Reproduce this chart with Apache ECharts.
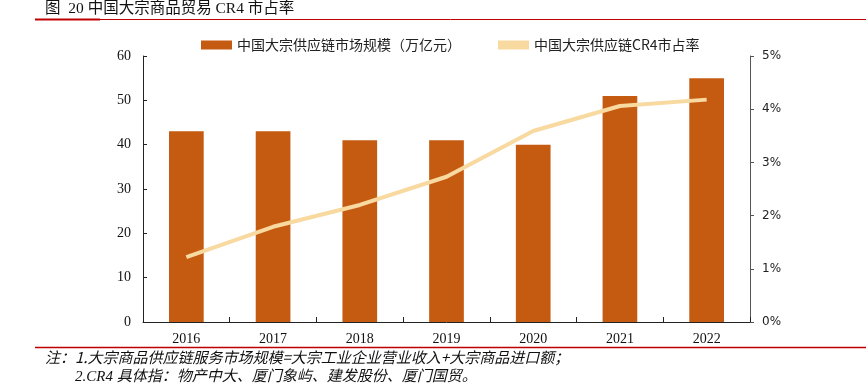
<!DOCTYPE html>
<html>
<head>
<meta charset="utf-8">
<script src="https://cdn.jsdelivr.net/npm/echarts@6/dist/echarts.min.js"></script>
<style>html,body{margin:0;padding:0;background:#fff;}#c{width:866px;height:391px;}</style>
</head>
<body>
<div id="c"></div>
<script>
const years = ['2016','2017','2018','2019','2020','2021','2022'];
const marketSize = [43, 43, 41, 41, 40, 51, 55];
const cr4Share = [1.22, 1.79, 2.20, 2.73, 3.59, 4.06, 4.18];
const leftTicks = [0, 60, 10];
const rightTicks = [0, 5, 1];
const titleText = '图  20 中国大宗商品贸易 CR4 市占率';
const barName = '中国大宗供应链市场规模（万亿元）';
const lineName = '中国大宗供应链CR4市占率';
const note1 = '注：1.大宗商品供应链服务市场规模=大宗工业企业营业收入+大宗商品进口额；';
const note2 = '2.CR4 具体指：物产中大、厦门象屿、建发股份、厦门国贸。';

const chart = echarts.init(document.getElementById('c'), null, {renderer: 'canvas'});
const serif = '"Liberation Serif", "Noto Sans CJK SC", serif';
const cjk = '"Noto Sans CJK SC", sans-serif';
chart.setOption({
  animation: false,
  backgroundColor: '#fff',
  graphic: [
    {type: 'text', left: 45, top: 1, style: {text: titleText, font: '15.5px "Liberation Serif", "Noto Sans CJK SC"', fill: '#111'}},
    {type: 'line', shape: {x1: 35, y1: 19.5, x2: 866, y2: 19.5}, style: {stroke: '#C00000', lineWidth: 1}},
    {type: 'line', shape: {x1: 35, y1: 19.5, x2: 100, y2: 19.5}, style: {stroke: '#C00000', lineWidth: 2}},
    {type: 'line', shape: {x1: 35, y1: 347.5, x2: 866, y2: 347.5}, style: {stroke: '#C00000', lineWidth: 1.5}},
    {type: 'text', left: 45, top: 350, style: {text: note1, font: 'italic 15px "Noto Sans CJK SC"', fill: '#111'}},
    {type: 'text', left: 75, top: 370, style: {text: note2, font: 'italic 15px "Liberation Serif", "Noto Sans CJK SC"', fill: '#111'}}
  ],
  legend: {
    top: 33,
    left: 196,
    itemGap: 37,
    itemWidth: 31,
    itemHeight: 9,
    textStyle: {fontFamily: cjk, fontSize: 14, color: '#222'},
    data: [
      {name: barName, icon: 'rect'},
      {name: lineName, icon: 'rect', itemStyle: {color: '#F8D9A0'}}
    ]
  },
  grid: {left: 143, right: 116, top: 56, bottom: 69, containLabel: false},
  xAxis: {
    type: 'category',
    data: years,
    axisLine: {lineStyle: {color: '#222', width: 1}},
    axisTick: {show: true, inside: true, length: 5, lineStyle: {color: '#222'}},
    axisLabel: {fontFamily: serif, fontSize: 14, color: '#111', margin: 10}
  },
  yAxis: [
    {
      type: 'value', min: leftTicks[0], max: leftTicks[1], interval: leftTicks[2],
      position: 'left',
      axisLine: {show: true, lineStyle: {color: '#222'}},
      axisTick: {show: true, inside: true, length: 4, lineStyle: {color: '#222'}},
      splitLine: {show: false},
      axisLabel: {fontFamily: serif, fontSize: 14, color: '#111', margin: 12}
    },
    {
      type: 'value', min: rightTicks[0], max: rightTicks[1], interval: rightTicks[2],
      position: 'right',
      axisLine: {show: true, lineStyle: {color: '#555'}},
      axisTick: {show: true, inside: false, length: 4, lineStyle: {color: '#555'}},
      splitLine: {show: false},
      axisLabel: {fontFamily: '"DejaVu Sans", sans-serif', fontSize: 12, color: '#222', margin: 12, formatter: v => v + '%'}
    }
  ],
  series: [
    {
      name: barName, type: 'bar', data: marketSize, yAxisIndex: 0,
      barWidth: '40%',
      itemStyle: {color: '#C55A11'}
    },
    {
      name: lineName, type: 'line', data: cr4Share, yAxisIndex: 1,
      symbol: 'none',
      lineStyle: {color: '#F8D9A0', width: 4},
      itemStyle: {color: '#F8D9A0'}
    }
  ]
});
</script>
</body>
</html>
